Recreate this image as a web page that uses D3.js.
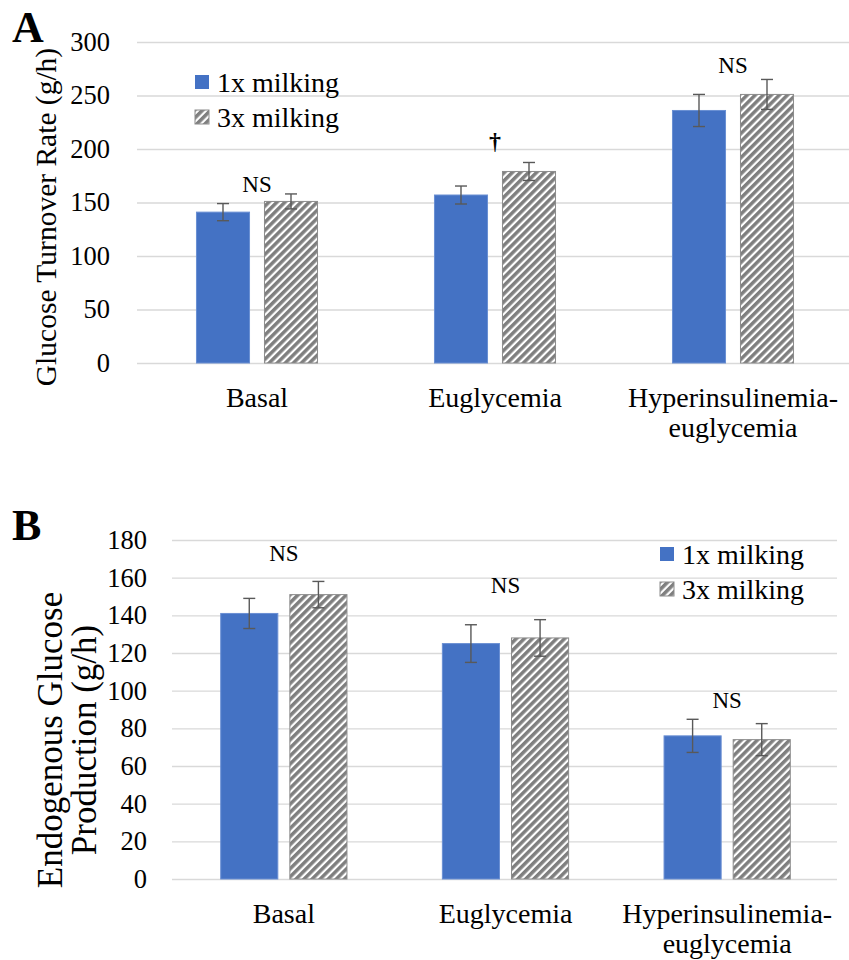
<!DOCTYPE html>
<html>
<head>
  <meta charset="utf-8">
  <script src="https://d3js.org/d3.v7.min.js"></script>
  <style>
    body { margin: 0; background: #fff; }
    svg { font-family: "Liberation Serif", "Times New Roman", serif; }
    .tick text { fill: #000; }
  </style>
</head>
<body>
  <svg width="849" height="960"></svg>

  <script>
    // categories and series
    const categories = ["Basal", "Euglycemia", "Hyperinsulinemia-euglycemia"];
    const seriesNames = ["1x milking", "3x milking"];

    // panel A: glucose turnover rate (g/h)
    const turnover1x = [141, 157, 236];
    const turnover3x = [151, 179, 251];
    const turnoverErr1x = [8, 8.4, 15];
    const turnoverErr3x = [7, 8.4, 14];
    const turnoverTicks = [0, 50, 100, 150, 200, 250, 300];
    const turnoverMarks = ["NS", "\u2020", "NS"];
    const turnoverMarkLevels = [160, 200, 271];

    // panel B: endogenous glucose production (g/h)
    const egp1x = [141, 125, 76];
    const egp3x = [151, 128, 74];
    const egpErr1x = [8, 10, 8.8];
    const egpErr3x = [7, 9.7, 8.5];
    const egpTicks = [0, 20, 40, 60, 80, 100, 120, 140, 160, 180];
    const egpMarks = ["NS", "NS", "NS"];
    const egpMarkLevels = [169, 152, 91];

    const svg = d3.select("svg");
    const blue = "#4472C4";
    const grey = "#7f7f7f";
    const gridColor = "#d9d9d9";
    const errColor = "#595959";

    // hatch pattern for 3x milking
    const defs = svg.append("defs");
    const pat = defs.append("pattern")
      .attr("id", "hatch")
      .attr("patternUnits", "userSpaceOnUse")
      .attr("width", 5.7)
      .attr("height", 5.7)
      .attr("patternTransform", "rotate(45)");
    pat.append("rect").attr("width", 5.7).attr("height", 5.7).attr("fill", "#fff");
    pat.append("rect").attr("width", 3.5).attr("height", 5.7).attr("fill", grey);

    const fills = ["1x milking", "3x milking"].map((s, i) => i === 0 ? blue : "url(#hatch)");

    function drawPanel(opt) {
      const g = svg.append("g");

      const x0 = d3.scaleBand()
        .domain(categories)
        .range(opt.xRange);

      const x1 = d3.scaleBand()
        .domain(seriesNames)
        .range([0, x0.bandwidth()])
        .paddingInner(opt.inner)
        .paddingOuter(opt.outer);

      const y = d3.scaleLinear()
        .domain([0, d3.max(opt.ticks)])
        .range(opt.yRange);

      // y axis + gridlines
      const yAxis = g.append("g")
        .attr("transform", `translate(${opt.gridStart},0)`)
        .call(d3.axisLeft(y)
          .tickValues(opt.ticks)
          .tickSize(-(opt.gridEnd - opt.gridStart))
          .tickPadding(opt.tickPad));
      yAxis.select(".domain").remove();
      yAxis.selectAll(".tick line").attr("stroke", gridColor).attr("stroke-width", 1.3);
      yAxis.selectAll(".tick text")
        .attr("font-size", "26.5px")
        .attr("font-family", "Liberation Serif, serif");

      // category axis
      const xAxis = g.append("g")
        .attr("transform", `translate(0,${opt.yRange[0]})`)
        .call(d3.axisBottom(x0).tickSize(0));
      xAxis.select(".domain").remove();
      xAxis.selectAll(".tick text")
        .attr("font-size", "28px")
        .attr("font-family", "Liberation Serif, serif")
        .attr("y", 44)
        .attr("dy", 0)
        .each(function(d) {
          const t = d3.select(this);
          const parts = d.includes("-") ? [d.slice(0, d.indexOf("-") + 1), d.slice(d.indexOf("-") + 1)] : [d];
          t.text(null);
          parts.forEach((p, i) => {
            t.append("tspan").attr("x", 0).attr("y", 44 + i * 30).text(p);
          });
        });

      // bars
      const rows = categories.map((c, i) => ({
        cat: c,
        vals: [
          { s: seriesNames[0], v: opt.v1[i], e: opt.e1[i] },
          { s: seriesNames[1], v: opt.v3[i], e: opt.e3[i] }
        ]
      }));

      const groups = g.selectAll(".grp")
        .data(rows)
        .join("g")
        .attr("class", "grp")
        .attr("transform", d => `translate(${x0(d.cat)},0)`);

      groups.selectAll("rect")
        .data(d => d.vals)
        .join("rect")
        .attr("x", d => x1(d.s))
        .attr("y", d => y(d.v))
        .attr("width", x1.bandwidth())
        .attr("height", d => y(0) - y(d.v))
        .attr("fill", (d, i) => fills[i])
        .attr("stroke", (d, i) => i === 0 ? "#6a8fd3" : "#8c8c8c")
        .attr("stroke-width", 1);

      // error bars
      const eb = groups.selectAll(".err")
        .data(d => d.vals)
        .join("g")
        .attr("class", "err")
        .attr("stroke", errColor)
        .attr("stroke-width", 1.4);
      eb.append("line")
        .attr("x1", d => x1(d.s) + x1.bandwidth() / 2)
        .attr("x2", d => x1(d.s) + x1.bandwidth() / 2)
        .attr("y1", d => y(d.v - d.e))
        .attr("y2", d => y(d.v + d.e));
      eb.selectAll(".cap")
        .data(d => [{ d, v: d.v - d.e }, { d, v: d.v + d.e }])
        .join("line")
        .attr("x1", c => x1(c.d.s) + x1.bandwidth() / 2 - 6)
        .attr("x2", c => x1(c.d.s) + x1.bandwidth() / 2 + 6)
        .attr("y1", c => y(c.v))
        .attr("y2", c => y(c.v));

      // significance marks
      g.selectAll(".mark")
        .data(categories)
        .join("text")
        .attr("class", "mark")
        .attr("x", d => x0(d) + x0.bandwidth() / 2)
        .attr("y", (d, i) => y(opt.markLevels[i]))
        .attr("text-anchor", "middle")
        .attr("font-size", (d, i) => opt.marks[i] === "NS" ? "23px" : "24px")
        .attr("font-weight", (d, i) => opt.marks[i] === "NS" ? "normal" : "bold")
        .text((d, i) => opt.marks[i]);

      // legend
      const leg = g.append("g").attr("transform", `translate(${opt.legend[0]},${opt.legend[1]})`);
      seriesNames.forEach((s, i) => {
        leg.append("rect")
          .attr("x", 0)
          .attr("y", i * 35)
          .attr("width", 14)
          .attr("height", 14)
          .attr("fill", fills[i])
          .attr("stroke", i === 0 ? "none" : "#8c8c8c");
        leg.append("text")
          .attr("x", 22)
          .attr("y", i * 35 + 17)
          .attr("font-size", "28px")
          .text(s);
      });

      // y title
      const title = g.append("text")
        .attr("transform", `translate(${opt.titlePos[0]},${opt.titlePos[1]}) rotate(-90)`)
        .attr("text-anchor", "middle")
        .attr("font-size", opt.titleSize);
      opt.title.forEach((line, i) => {
        title.append("tspan").attr("x", 0).attr("y", i * opt.titleGap).text(line);
      });

      // panel letter
      g.append("text")
        .attr("x", 12)
        .attr("y", opt.letterY)
        .attr("font-size", "44px")
        .attr("font-weight", "bold")
        .text(opt.letter);
    }

    drawPanel({
      letter: "A", letterY: 42,
      v1: turnover1x, v3: turnover3x, e1: turnoverErr1x, e3: turnoverErr3x,
      ticks: turnoverTicks, marks: turnoverMarks, markLevels: turnoverMarkLevels,
      xRange: [138, 852], yRange: [363, 42], inner: 0.22, outer: 0.86,
      gridStart: 137, gridEnd: 849, tickPad: 27,
      legend: [195, 75],
      title: ["Glucose Turnover Rate (g/h)"], titleSize: "29.5px", titleGap: 0,
      titlePos: [56, 217]
    });

    drawPanel({
      letter: "B", letterY: 540,
      v1: egp1x, v3: egp3x, e1: egpErr1x, e3: egpErr3x,
      ticks: egpTicks, marks: egpMarks, markLevels: egpMarkLevels,
      xRange: [173, 838], yRange: [879, 540], inner: 0.174, outer: 0.69,
      gridStart: 172, gridEnd: 837, tickPad: 25,
      legend: [660, 547],
      title: ["Endogenous Glucose", "Production (g/h)"], titleSize: "35px", titleGap: 34,
      titlePos: [62, 740]
    });
  </script>
</body>
</html>
